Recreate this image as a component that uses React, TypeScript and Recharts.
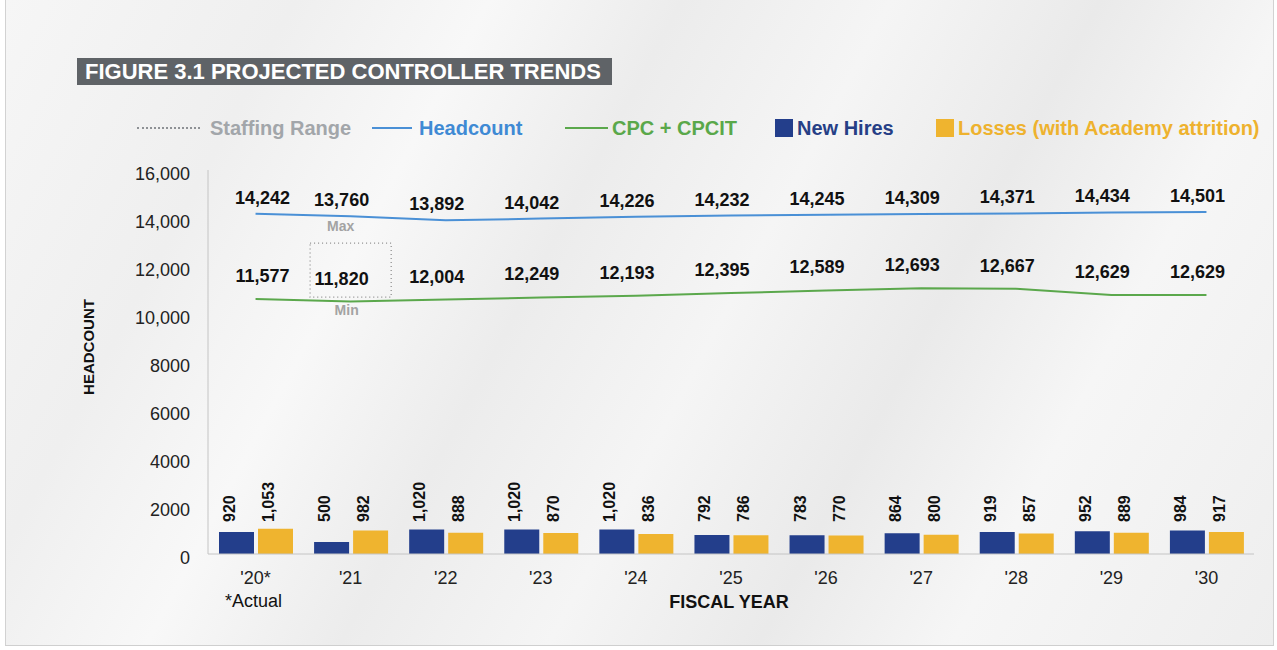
import React from "react";
import { ComposedChart, Bar, Line, XAxis, YAxis, LabelList, ReferenceArea, Label } from "recharts";

const years = ["'20*", "'21", "'22", "'23", "'24", "'25", "'26", "'27", "'28", "'29", "'30"];
// line positions as drawn; printed labels are kept separately
const headcount = [14179, 14075, 13904, 13975, 14050, 14104, 14133, 14163, 14192, 14233, 14250];
const headcountLabels = ["14,242", "13,760", "13,892", "14,042", "14,226", "14,232", "14,245", "14,309", "14,371", "14,434", "14,501"];
const cpc = [10620, 10520, 10600, 10690, 10760, 10870, 10980, 11070, 11050, 10790, 10790];
const cpcLabels = ["11,577", "11,820", "12,004", "12,249", "12,193", "12,395", "12,589", "12,693", "12,667", "12,629", "12,629"];
const newHires = [920, 500, 1020, 1020, 1020, 792, 783, 864, 919, 952, 984];
const losses = [1053, 982, 888, 870, 836, 786, 770, 800, 857, 889, 917];
const yTicks = [0, 2000, 4000, 6000, 8000, 10000, 12000, 14000, 16000];
const yTickLabels = ["0", "2000", "4000", "6000", "8000", "10,000", "12,000", "14,000", "16,000"];
const staffingYear = "'21";
const staffingMin = 10700;
const staffingMax = 12950;

const data = years.map((year, i) => ({
  year,
  headcount: headcount[i],
  headcountLabel: headcountLabels[i],
  cpc: cpc[i],
  cpcLabel: cpcLabels[i],
  newHires: newHires[i],
  losses: losses[i],
}));

const FONT = "'Liberation Sans', Arial, Helvetica, sans-serif";
const BLUE = "#4a90d6";
const GREEN = "#5ba84c";
const NAVY = "#233e8b";
const GOLD = "#efb42f";

const lineLabel = (lift: number) => (p: any) => (
  <text
    x={p.x + (p.index === 0 ? 7 : -9)}
    y={p.y - lift}
    textAnchor="middle"
    fontFamily={FONT}
    fontWeight={700}
    fontSize={18}
    fill="#111"
  >
    {p.value}
  </text>
);

const barLabel = (p: any) => {
  const cx = p.x + p.width / 2 - 7;
  const by = p.y + p.height - 32;
  return (
    <text
      x={cx}
      y={by}
      transform={`rotate(-90 ${cx} ${by})`}
      textAnchor="start"
      dominantBaseline="central"
      fontFamily={FONT}
      fontWeight={700}
      fontSize={16}
      fill="#111"
    >
      {Number(p.value).toLocaleString("en-US")}
    </text>
  );
};

const YTick = (p: any) => (
  <text x={p.x} y={p.y} dy={10} textAnchor="end" fontFamily={FONT} fontSize={18} fill="#222">
    {yTickLabels[yTicks.indexOf(p.payload.value)]}
  </text>
);

const XTick = (p: any) => (
  <g>
    <text x={p.x} y={p.y + 30} textAnchor="middle" fontFamily={FONT} fontSize={18} fill="#222">
      {p.payload.value}
    </text>
    {p.index === 0 && (
      <text x={p.x - 2} y={p.y + 53} textAnchor="middle" fontFamily={FONT} fontSize={18} fill="#111">
        *Actual
      </text>
    )}
  </g>
);

const StaffingBox = (p: any) => (
  <g>
    <rect
      x={p.x + 7}
      y={p.y}
      width={p.width - 14}
      height={p.height}
      fill="none"
      stroke="#8a8a8a"
      strokeWidth={1.2}
      strokeDasharray="1 3"
    />
    <text x={p.x + p.width / 2 - 10} y={p.y - 12} textAnchor="middle" fontFamily={FONT} fontWeight={700} fontSize={14} fill="#a3a3a3">
      Max
    </text>
    <text x={p.x + p.width / 2 - 4} y={p.y + p.height + 18} textAnchor="middle" fontFamily={FONT} fontWeight={700} fontSize={14} fill="#a3a3a3">
      Min
    </text>
  </g>
);

const legendText: React.CSSProperties = {
  position: "absolute",
  top: 118,
  lineHeight: "20px",
  fontFamily: FONT,
  fontWeight: 700,
  fontSize: 20,
  whiteSpace: "nowrap",
};

export default function App() {
  return (
    <div
      style={{
        position: "absolute",
        left: 0,
        top: 0,
        width: 1277,
        height: 650,
        background: "#ffffff",
        overflow: "hidden",
      }}
    >
      <div
        style={{
          position: "absolute",
          left: 5,
          top: 0,
          width: 1267,
          height: 645,
          borderLeft: "1px solid #d2d2d2",
          borderRight: "1px solid #d2d2d2",
          borderBottom: "1px solid #cfcfcf",
          background:
            "linear-gradient(118deg, #f6f6f6 0%, #efefef 18%, #f8f8f8 30%, #ececec 42%, #f5f5f5 55%, #eaeaea 68%, #f6f6f6 80%, #eeeeee 100%)",
        }}
      />
      {/* title */}
      <div
        style={{
          position: "absolute",
          left: 77,
          top: 58,
          width: 535,
          height: 27,
          background: "#5f6367",
          color: "#ffffff",
          fontFamily: FONT,
          fontWeight: 700,
          fontSize: 22,
          lineHeight: "27px",
          paddingLeft: 8,
          boxSizing: "border-box",
          whiteSpace: "nowrap",
        }}
      >
        FIGURE 3.1 PROJECTED CONTROLLER TRENDS
      </div>
      {/* legend */}
      <div style={{ position: "absolute", left: 137, top: 127, width: 63, borderTop: "2px dotted #8e9195" }} />
      <div style={{ ...legendText, left: 210, color: "#a2a6aa" }}>Staffing Range</div>
      <div style={{ position: "absolute", left: 372, top: 127, width: 40, height: 2, background: BLUE }} />
      <div style={{ ...legendText, left: 419, color: "#3f8ad4" }}>Headcount</div>
      <div style={{ position: "absolute", left: 565, top: 127, width: 43, height: 2, background: GREEN }} />
      <div style={{ ...legendText, left: 612, color: "#5aa84a" }}>CPC + CPCIT</div>
      <div style={{ position: "absolute", left: 775, top: 119, width: 18, height: 18, background: NAVY }} />
      <div style={{ ...legendText, left: 797, color: "#263f86" }}>New Hires</div>
      <div style={{ position: "absolute", left: 936, top: 119, width: 18, height: 18, background: GOLD }} />
      <div style={{ ...legendText, left: 958, color: "#eeb22e" }}>Losses (with Academy attrition)</div>

      <div style={{ position: "absolute", left: 0, top: 0 }}>
        <ComposedChart
          width={1277}
          height={650}
          data={data}
          margin={{ top: 170, right: 23, bottom: 56, left: 0 }}
          barSize={35}
          barGap={4}
        >
          <XAxis
            dataKey="year"
            axisLine={{ stroke: "#c4c4c4" }}
            tickLine={false}
            tickSize={0}
            tickMargin={0}
            height={40}
            tick={<XTick />}
            interval={0}
          >
            <Label
              content={(p: any) => (
                <text
                  x={p.viewBox.x + p.viewBox.width / 2 - 2}
                  y={p.viewBox.y + 54}
                  textAnchor="middle"
                  fontFamily={FONT}
                  fontWeight={700}
                  fontSize={18}
                  fill="#111"
                >
                  FISCAL YEAR
                </text>
              )}
            />
          </XAxis>
          <YAxis
            width={208}
            domain={[0, 16000]}
            ticks={yTicks}
            axisLine={{ stroke: "#c4c4c4" }}
            tickLine={false}
            tickSize={0}
            tickMargin={18}
            tick={<YTick />}
            interval={0}
          >
            <Label
              content={() => (
                <text
                  x={88}
                  y={347}
                  transform="rotate(-90 88 347)"
                  textAnchor="middle"
                  dominantBaseline="central"
                  fontFamily={FONT}
                  fontWeight={700}
                  fontSize={15}
                  fill="#111"
                >
                  HEADCOUNT
                </text>
              )}
            />
          </YAxis>
          <ReferenceArea
            x1={staffingYear}
            x2={staffingYear}
            y1={staffingMin}
            y2={staffingMax}
            shape={<StaffingBox />}
          />
          <Bar dataKey="newHires" fill={NAVY} isAnimationActive={false}>
            <LabelList dataKey="newHires" content={barLabel} />
          </Bar>
          <Bar dataKey="losses" fill={GOLD} isAnimationActive={false}>
            <LabelList dataKey="losses" content={barLabel} />
          </Bar>
          <Line type="linear" dataKey="headcount" stroke={BLUE} strokeWidth={2} dot={false} isAnimationActive={false}>
            <LabelList dataKey="headcountLabel" content={lineLabel(10)} />
          </Line>
          <Line type="linear" dataKey="cpc" stroke={GREEN} strokeWidth={2} dot={false} isAnimationActive={false}>
            <LabelList dataKey="cpcLabel" content={lineLabel(17)} />
          </Line>
        </ComposedChart>
      </div>
    </div>
  );
}
